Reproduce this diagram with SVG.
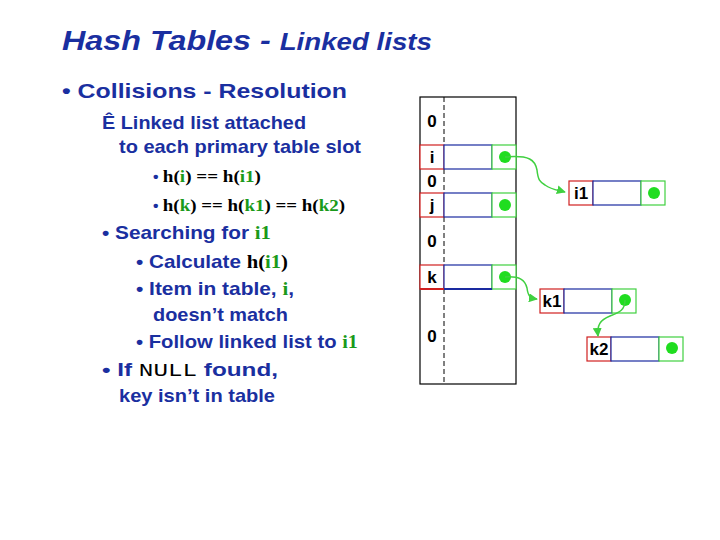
<svg xmlns="http://www.w3.org/2000/svg" width="720" height="540" viewBox="0 0 720 540">
<style>
.t{font-family:"Liberation Sans",Arial,sans-serif;fill:#1a2fa0;font-weight:bold}
.s{font-family:"Liberation Serif","Times New Roman",serif;font-weight:bold}
.g{fill:#1a9a1a}
.lbl{font-family:"Liberation Sans",Arial,sans-serif;font-weight:bold;font-size:17px;fill:#000}
.r{fill:#fff;stroke:#d02020;stroke-width:1.2}
.b{fill:#fff;stroke:#1a2aa0;stroke-width:1.2}
.gc{fill:#fff;stroke:#40d040;stroke-width:1.2}
.dot{fill:#20dd20}
.ar{fill:none;stroke:#40d040;stroke-width:1.5;marker-end:url(#ah)}
</style>
<defs><marker id="ah" viewBox="0 0 10 10" refX="9" refY="5" markerWidth="6" markerHeight="6" orient="auto"><path d="M0,0L10,5L0,10z" fill="#40d040"/></marker></defs>
<rect width="720" height="540" fill="#fff"/>
<text class="t" x="62" y="50" font-size="28" font-style="italic" textLength="370" lengthAdjust="spacingAndGlyphs">Hash Tables - <tspan font-size="24">Linked lists</tspan></text>
<text class="t" x="62" y="98" font-size="21" textLength="285" lengthAdjust="spacingAndGlyphs">•  Collisions - Resolution</text>
<text class="t" x="102" y="129" font-size="19" textLength="204" lengthAdjust="spacingAndGlyphs">Ê Linked list attached</text>
<text class="t" x="119" y="153" font-size="19" textLength="242" lengthAdjust="spacingAndGlyphs">to each primary table slot</text>
<text class="t" x="153" y="182" font-size="14" textLength="108" lengthAdjust="spacingAndGlyphs">•  <tspan class="s" font-size="17" fill="#000">h(<tspan class="g">i</tspan>)  == h(<tspan class="g">i1</tspan>)</tspan></text>
<text class="t" x="153" y="211" font-size="14" textLength="192" lengthAdjust="spacingAndGlyphs">•  <tspan class="s" font-size="17" fill="#000">h(<tspan class="g">k</tspan>) == h(<tspan class="g">k1</tspan>) == h(<tspan class="g">k2</tspan>)</tspan></text>
<text class="t" x="102" y="239" font-size="19" textLength="169" lengthAdjust="spacingAndGlyphs">•  Searching for <tspan class="s g">i1</tspan></text>
<text class="t" x="136" y="268" font-size="19" textLength="152" lengthAdjust="spacingAndGlyphs">• Calculate <tspan class="s" fill="#000">h(<tspan class="g">i1</tspan>)</tspan></text>
<text class="t" x="136" y="295" font-size="19" textLength="158" lengthAdjust="spacingAndGlyphs">• Item in table, <tspan class="s g">i</tspan>,</text>
<text class="t" x="153" y="321" font-size="19" textLength="135" lengthAdjust="spacingAndGlyphs">doesn’t match</text>
<text class="t" x="136" y="348" font-size="19" textLength="222" lengthAdjust="spacingAndGlyphs">• Follow linked list to <tspan class="s g">i1</tspan></text>
<text class="t" x="102" y="376" font-size="19" textLength="176" lengthAdjust="spacingAndGlyphs">•  If <tspan font-family="Liberation Mono,monospace" font-weight="normal" fill="#000">NULL</tspan> found,</text>
<text class="t" x="119" y="402" font-size="19" textLength="156" lengthAdjust="spacingAndGlyphs">key isn’t in table</text>
<g id="table">
<rect x="420" y="97" width="96" height="287" fill="#fff" stroke="#000" stroke-width="1.2"/>
<line x1="444" y1="97" x2="444" y2="384" stroke="#000" stroke-dasharray="5,3"/>
<text class="lbl" x="432" y="127" text-anchor="middle">0</text>
<text class="lbl" x="432" y="187" text-anchor="middle">0</text>
<text class="lbl" x="432" y="247" text-anchor="middle">0</text>
<text class="lbl" x="432" y="342" text-anchor="middle">0</text>
</g>
<g id="row-i"><rect class="r" x="420" y="145" width="24" height="24"/><rect class="b" x="444" y="145" width="48" height="24"/><rect class="gc" x="492" y="145" width="24" height="24"/><circle class="dot" cx="505" cy="157" r="6"/><text class="lbl" x="432" y="163" text-anchor="middle">i</text></g>
<g id="row-j"><rect class="r" x="420" y="193" width="24" height="24"/><rect class="b" x="444" y="193" width="48" height="24"/><rect class="gc" x="492" y="193" width="24" height="24"/><circle class="dot" cx="505" cy="205" r="6"/><text class="lbl" x="432" y="211" text-anchor="middle">j</text></g>
<g id="row-k"><rect class="r" x="420" y="265" width="24" height="24"/><rect class="b" x="444" y="265" width="48" height="24"/><rect class="gc" x="492" y="265" width="24" height="24"/><circle class="dot" cx="505" cy="277" r="6"/><text class="lbl" x="432" y="283" text-anchor="middle">k</text><line x1="420" y1="289" x2="444" y2="289" stroke="#d02020" stroke-width="2"/><line x1="444" y1="289" x2="492" y2="289" stroke="#1a2aa0" stroke-width="2"/></g>
<g id="i1"><rect class="r" x="569" y="181" width="24" height="24"/><rect class="b" x="593" y="181" width="48" height="24"/><rect class="gc" x="641" y="181" width="24" height="24"/><circle class="dot" cx="654" cy="193" r="6"/><text class="lbl" x="581" y="199" text-anchor="middle">i1</text></g>
<g id="k1"><rect class="r" x="540" y="289" width="24" height="24" stroke-width="2"/><rect class="b" x="564" y="289" width="48" height="24" stroke-width="2"/><rect class="gc" x="612" y="289" width="24" height="24"/><circle class="dot" cx="625" cy="300" r="6"/><text class="lbl" x="552" y="307" text-anchor="middle">k1</text></g>
<g id="k2"><rect class="r" x="587" y="337" width="24" height="24"/><rect class="b" x="611" y="337" width="48" height="24"/><rect class="gc" x="659" y="337" width="24" height="24"/><circle class="dot" cx="672" cy="348" r="6"/><text class="lbl" x="599" y="355" text-anchor="middle">k2</text></g>
<g id="connectors">
<path class="ar" d="M505,157 C530,155 535,160 537,170 C538,180 540,182 545,185 C552,190 558,190 565,192"/>
<path class="ar" d="M505,277 C520,276 525,280 527,288 C528,296 530,298 537,299"/>
<path class="ar" d="M625,300 C625,310 620,312 610,316 C600,320 597,325 598,336"/>
</g>
</svg>
